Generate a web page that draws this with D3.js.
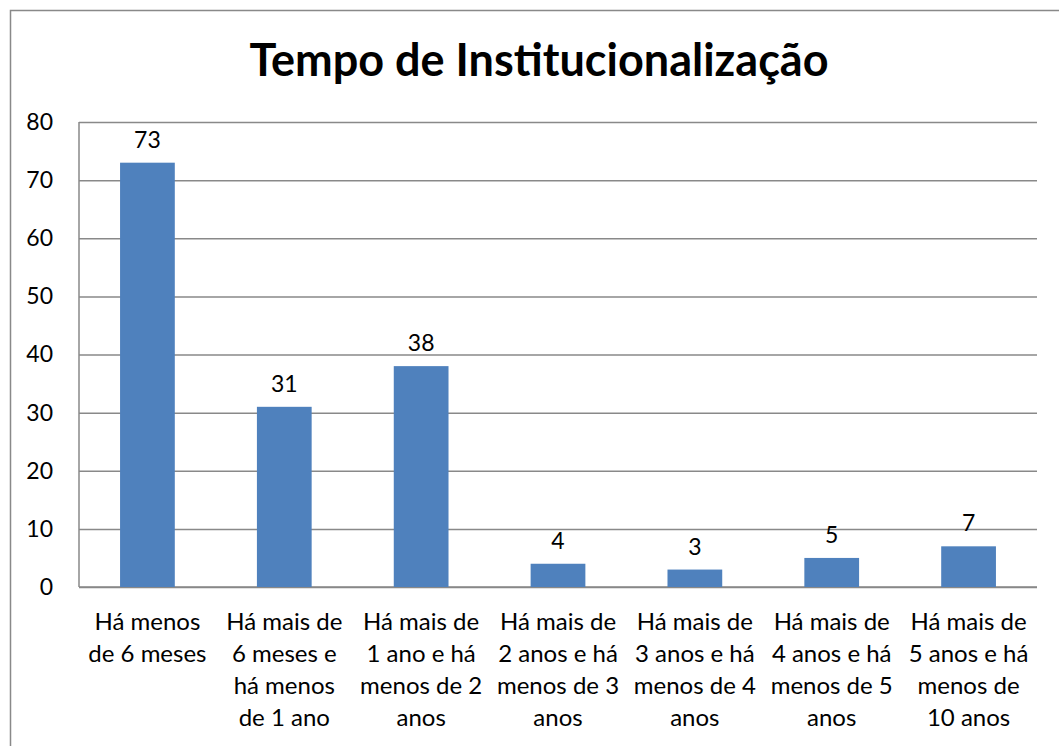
<!DOCTYPE html>
<html>
<head>
<meta charset="utf-8">
<script src="https://cdn.jsdelivr.net/npm/d3@7"></script>
<style>
  html, body { margin: 0; padding: 0; background: #fff; }
  svg { display: block; }
</style>
</head>
<body>
<div id="chart"></div>
<script>
const title = 'Tempo de Institucionalização';
const categories = [
  ['Há menos', 'de 6 meses'],
  ['Há mais de', '6 meses e', 'há menos', 'de 1 ano'],
  ['Há mais de', '1 ano e há', 'menos de 2', 'anos'],
  ['Há mais de', '2 anos e há', 'menos de 3', 'anos'],
  ['Há mais de', '3 anos e há', 'menos de 4', 'anos'],
  ['Há mais de', '4 anos e há', 'menos de 5', 'anos'],
  ['Há mais de', '5 anos e há', 'menos de', '10 anos']
];
const values = [73, 31, 38, 4, 3, 5, 7];
const yTicks = [0, 10, 20, 30, 40, 50, 60, 70, 80];

const W = 1059, H = 746;
const plotL = 79, plotR = 1037, plotT = 122, plotB = 587;
const font = 'Lato, "Open Sans", sans-serif';
const grey = '#898989';

let svg = d3.select('#chart').append('svg')
  .attr('width', W)
  .attr('height', H);

// outer chart border (runs off the right and bottom edges)
svg.append('rect')
  .attr('x', 10.5).attr('y', 10.5)
  .attr('width', 1200).attr('height', 900)
  .attr('fill', 'none')
  .attr('stroke', grey)
  .attr('stroke-width', 1.5);

svg.append('text')
  .attr('x', 539)
  .attr('y', 76)
  .attr('text-anchor', 'middle')
  .style('font-family', font)
  .style('font-weight', 'bold')
  .style('font-size', '45px')
  .text(title);

let idx = d3.range(values.length);
let x = d3.scaleBand()
  .domain(idx)
  .range([plotL, plotR])
  .paddingInner(0.6)
  .paddingOuter(0.3);
let y = d3.scaleLinear()
  .domain([0, 80])
  .range([plotB, plotT]);

// gridlines + y labels
let yAxis = svg.append('g')
  .attr('transform', `translate(${plotL},0)`)
  .call(d3.axisLeft(y).tickValues(yTicks).tickSize(-(plotR - plotL)).tickPadding(26));
yAxis.select('.domain').remove();
yAxis.selectAll('.tick line')
  .attr('stroke', grey)
  .attr('stroke-width', 1.5);
yAxis.selectAll('.tick text')
  .attr('fill', '#000')
  .style('font-family', font)
  .style('font-size', '23px');

// axis lines
svg.append('line')
  .attr('x1', plotL).attr('x2', plotL)
  .attr('y1', plotT).attr('y2', plotB)
  .attr('stroke', grey).attr('stroke-width', 1.5);
svg.append('line')
  .attr('x1', plotL).attr('x2', plotR)
  .attr('y1', plotB).attr('y2', plotB)
  .attr('stroke', grey).attr('stroke-width', 1.5);

// bars
svg.selectAll('.bar')
  .data(values)
  .enter().append('rect')
  .attr('class', 'bar')
  .attr('x', (d, i) => x(i))
  .attr('y', d => y(d))
  .attr('width', x.bandwidth())
  .attr('height', d => y(0) - y(d))
  .attr('fill', '#4F81BD');

// value labels
svg.selectAll('.val')
  .data(values)
  .enter().append('text')
  .attr('class', 'val')
  .attr('x', (d, i) => x(i) + x.bandwidth() / 2)
  .attr('y', d => y(d) - 15)
  .attr('text-anchor', 'middle')
  .style('font-family', font)
  .style('font-size', '23px')
  .text(d => d);

// category labels
let cat = svg.selectAll('.cat')
  .data(categories)
  .enter().append('text')
  .attr('class', 'cat')
  .attr('x', (d, i) => x(i) + x.bandwidth() / 2)
  .attr('y', 630)
  .attr('text-anchor', 'middle')
  .style('font-family', font)
  .style('font-size', '24px');
cat.selectAll('tspan')
  .data(d => d)
  .enter().append('tspan')
  .attr('x', function() { return d3.select(this.parentNode).attr('x'); })
  .attr('dy', (d, i) => i === 0 ? 0 : 32)
  .text(d => d);
</script>
</body>
</html>
